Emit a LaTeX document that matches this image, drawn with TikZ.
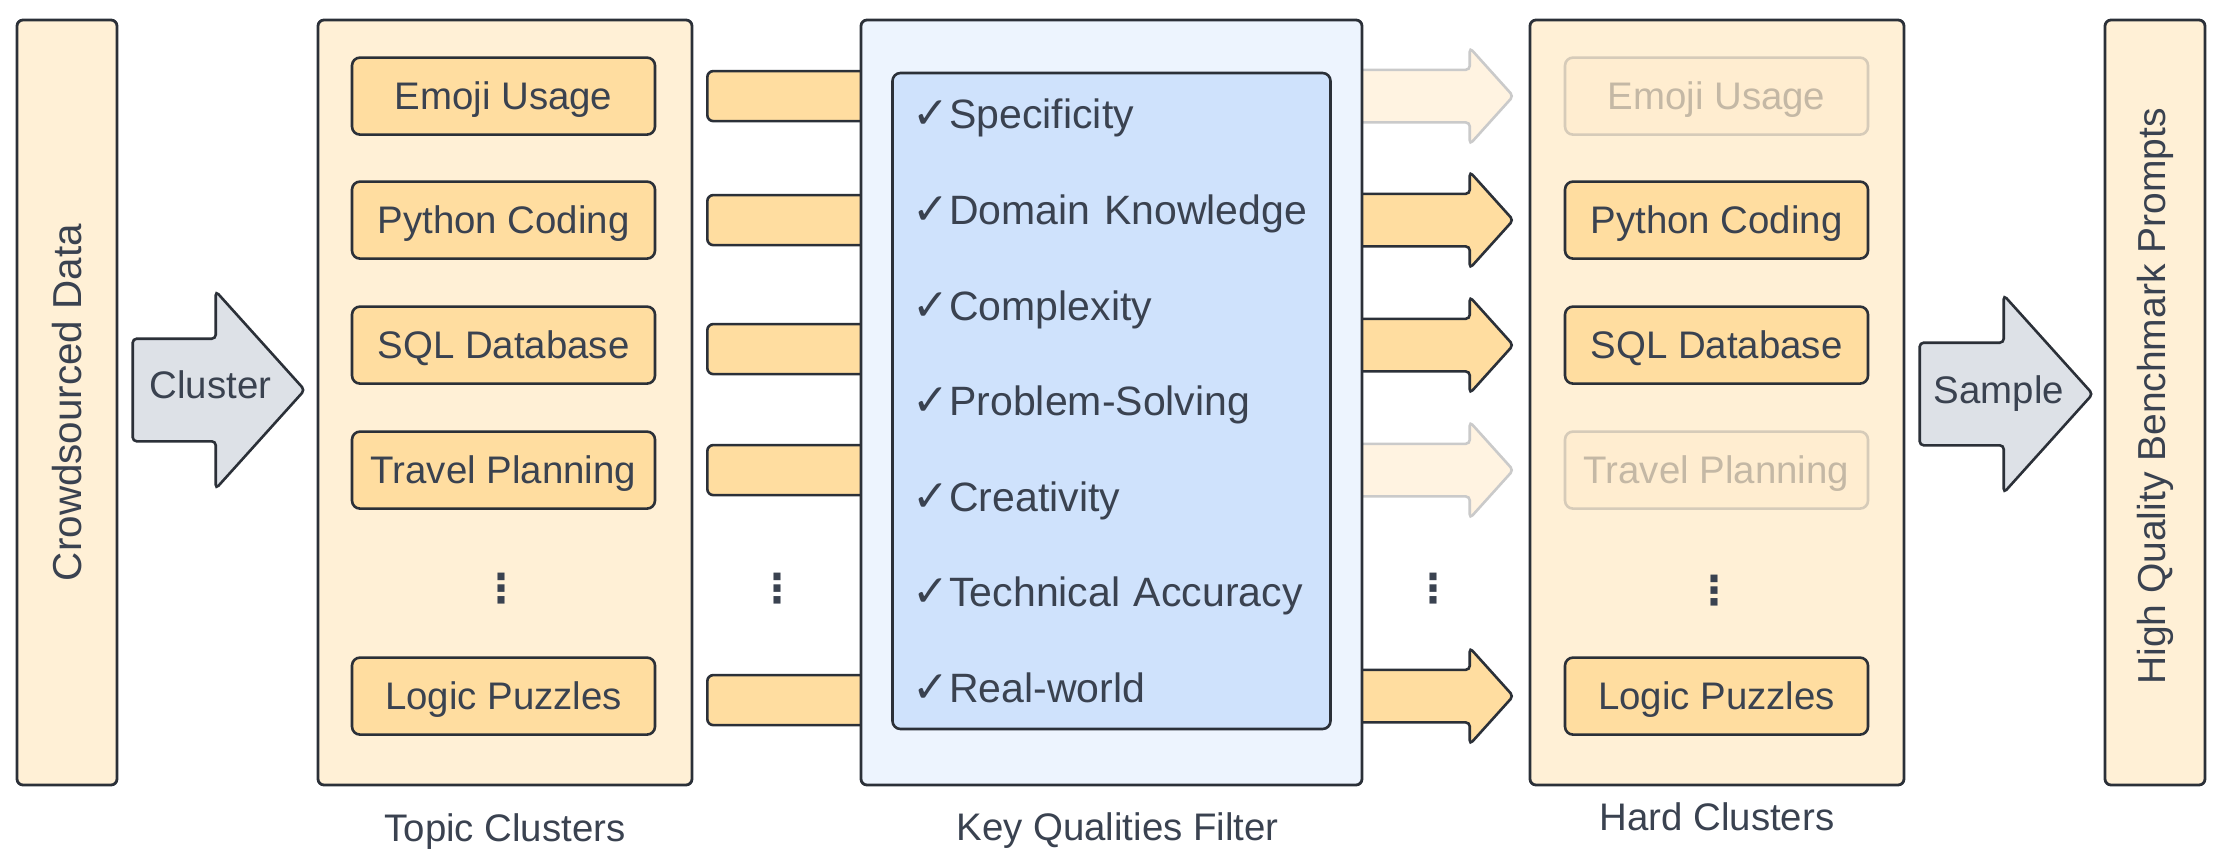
\documentclass[tikz,border=0pt]{standalone}
\usepackage{fontspec}
\setmainfont{Liberation Sans}
\newfontfamily\symfont{DejaVu Sans}
\usepackage{tikz}
\usetikzlibrary{positioning,shapes.arrows}
\definecolor{lineclr}{HTML}{2B3038}
\definecolor{textclr}{HTML}{3A4250}
\definecolor{paleorange}{HTML}{FFF0D6}
\definecolor{boxorange}{HTML}{FFDDA0}
\definecolor{paleblue}{HTML}{EDF4FE}
\definecolor{boxblue}{HTML}{CFE2FC}
\definecolor{arrowgray}{HTML}{DDE1E7}
\definecolor{fadefill}{HTML}{FFEDD0}
\definecolor{fadeline}{HTML}{D6CBB9}
\definecolor{fadetext}{HTML}{C4B8A5}
\definecolor{fadearrow}{HTML}{FFF3E1}
\definecolor{fadearrowline}{HTML}{CACACA}
\tikzset{
    panel/.style={
           rectangle,
           rounded corners=3pt,
           draw=lineclr, line width=1.4pt,
           fill=paleorange,
           minimum height=382.5pt,
           inner sep=0pt,
           text=textclr,
           },
    cluster/.style={
           rectangle,
           rounded corners=4pt,
           draw=lineclr, line width=1.3pt,
           fill=boxorange,
           minimum width=151.5pt,
           minimum height=38.5pt,
           inner sep=0pt,
           text=textclr,
           font=\fontsize{19.2}{23}\selectfont,
           text height=13.75pt, text depth=0pt,
           },
    faded/.style={cluster, draw=fadeline, fill=fadefill, text=fadetext},
    bigarrow/.style={
           single arrow,
           rounded corners=2pt,
           draw=lineclr, line width=1.3pt,
           fill=arrowgray,
           single arrow tip angle=96,
           single arrow head extend=23.75pt,
           minimum height=86pt,
           inner xsep=0pt, inner ysep=25pt,
           },
    passarrow/.style={
           single arrow,
           rounded corners=2pt,
           draw=lineclr, line width=1.3pt,
           fill=boxorange,
           single arrow tip angle=96,
           single arrow head extend=11pt,
           minimum height=80pt,
           inner xsep=0pt, inner ysep=12.5pt,
           },
    dropped/.style={passarrow, draw=fadearrowline, fill=fadearrow},
    bar/.style={
           rectangle,
           rounded corners=3pt,
           draw=lineclr, line width=1.3pt,
           fill=boxorange,
           minimum width=80pt,
           minimum height=25pt,
           inner sep=0pt,
           },
    quality/.style={
           text width=200pt,
           align=left,
           inner sep=0pt,
           text=textclr,
           font=\fontsize{20.5}{24}\selectfont,
           text height=14.7pt, text depth=0pt,
           },
    caption/.style={
           inner sep=0pt,
           text=textclr,
           font=\fontsize{19.2}{23}\selectfont,
           text height=13.75pt, text depth=0pt,
           },
    morerows/.style={inner sep=0pt, text=textclr, font=\symfont\bfseries\fontsize{20}{24}\selectfont},
}
\newcommand{\tick}{{\symfont\fontsize{22}{24}\selectfont\char"2713}}

\begin{document}
\begin{tikzpicture}
        \useasboundingbox (0,0) rectangle (1112pt,-431.5pt);

        % SOURCE DATA
        \node[panel,
            minimum width=50pt,
            font=\fontsize{20.2}{24}\selectfont
            ] (CROWD) at (33.5pt,-201.25pt)
        {\rotatebox{90}{Crowdsourced Data}};

        % TOPIC CLUSTERS
        % column of clusters inside one big panel
        \node[panel,
            minimum width=187pt,
            right of=CROWD,
            node distance=219pt,
            anchor=center] (TOPIC) {};

        \node[cluster, at=(TOPIC.north), yshift=-38.75pt, xshift=-0.75pt] (TOPIC_EMOJI) {Emoji Usage};
        \node[cluster, below of=TOPIC_EMOJI, node distance=62pt] (TOPIC_PY) {Python Coding};
        \node[cluster, below of=TOPIC_PY, node distance=62.5pt] (TOPIC_SQL) {SQL Database};
        \node[cluster, below of=TOPIC_SQL, node distance=62.5pt] (TOPIC_TRAVEL) {Travel Planning};
        \node[morerows, below of=TOPIC_TRAVEL, node distance=59pt, xshift=-1.25pt] (TOPIC_DOTS) {\char"22EE};
        \node[cluster, below of=TOPIC_TRAVEL, node distance=113pt] (TOPIC_LOGIC) {Logic Puzzles};

        % HARD CLUSTERS
        % same column, the dropped ones are faded out
        \node[panel,
            minimum width=187pt,
            right of=TOPIC,
            node distance=606pt,
            anchor=center] (HARD) {};

        \node[faded, at=(HARD.north), yshift=-38.75pt, xshift=-0.25pt] (HARD_EMOJI) {Emoji Usage};
        \node[cluster, below of=HARD_EMOJI, node distance=62pt] (HARD_PY) {Python Coding};
        \node[cluster, below of=HARD_PY, node distance=62.5pt] (HARD_SQL) {SQL Database};
        \node[faded, below of=HARD_SQL, node distance=62.5pt] (HARD_TRAVEL) {Travel Planning};
        \node[morerows, below of=HARD_TRAVEL, node distance=60pt, xshift=-1.25pt] (HARD_DOTS) {\char"22EE};
        \node[cluster, below of=HARD_TRAVEL, node distance=113pt] (HARD_LOGIC) {Logic Puzzles};

        % BENCHMARK
        \node[panel,
            minimum width=50pt,
            right of=HARD,
            node distance=219pt,
            anchor=center,
            font=\fontsize{19.5}{23}\selectfont] (BENCH)
        {\rotatebox{90}{\hspace*{6pt}High Quality Benchmark Prompts}};

        % big arrows between the panels
        % words set on top, so they may run into the head
        \node[bigarrow, at=(CROWD.east), anchor=tail, xshift=6.5pt, yshift=6.25pt] (CLUSTER) {};
        \node[caption, at=(CLUSTER.tail), xshift=39.5pt, yshift=2.5pt] (CLUSTER_TXT) {Cluster};
        \node[bigarrow, at=(HARD.east), anchor=tail, xshift=6.5pt, yshift=4.25pt,
            minimum height=86.5pt] (SAMPLE) {};
        \node[caption, at=(SAMPLE.tail), xshift=40.3pt, yshift=2pt] (SAMPLE_TXT) {Sample};

        % bars into the filter (right ends go under it)
        \node[bar, right of=TOPIC_EMOJI, node distance=101.25pt, anchor=west] (IN_EMOJI) {};
        \node[bar, right of=TOPIC_PY, node distance=101.25pt, anchor=west] (IN_PY) {};
        \node[bar, right of=TOPIC_SQL, node distance=101.25pt, anchor=west, yshift=-2pt] (IN_SQL) {};
        \node[bar, right of=TOPIC_TRAVEL, node distance=101.25pt, anchor=west] (IN_TRAVEL) {};
        \node[bar, right of=TOPIC_LOGIC, node distance=101.25pt, anchor=west, yshift=-2pt] (IN_LOGIC) {};

        % arrows out of the filter (left ends go under it)
        \node[dropped, left of=HARD_EMOJI, node distance=100.75pt, anchor=tip] (OUT_EMOJI) {};
        \node[passarrow, left of=HARD_PY, node distance=100.75pt, anchor=tip] (OUT_PY) {};
        \node[passarrow, left of=HARD_SQL, node distance=100.75pt, anchor=tip] (OUT_SQL) {};
        \node[dropped, left of=HARD_TRAVEL, node distance=100.75pt, anchor=tip] (OUT_TRAVEL) {};
        \node[passarrow, left of=HARD_LOGIC, node distance=100.75pt, anchor=tip] (OUT_LOGIC) {};

        % KEY QUALITIES FILTER
        \node[panel,
            fill=paleblue,
            minimum width=250.5pt,
            right of=TOPIC,
            node distance=303.25pt,
            anchor=center] (FILTER) {};
        \node[rectangle, rounded corners=4pt,
            draw=lineclr, line width=1.3pt,
            fill=boxblue,
            minimum width=219pt, minimum height=328pt,
            at=(FILTER.center), yshift=0.75pt] (FILTER_IN) {};

        \node[quality, at=(FILTER_IN.north), xshift=0.5pt, yshift=-21.2pt] (Q1) {\tick Specificity};
        \node[quality, below of=Q1, node distance=47.8pt] (Q2) {\tick Domain Knowledge};
        \node[quality, below of=Q2, node distance=47.8pt] (Q3) {\tick Complexity};
        \node[quality, below of=Q3, node distance=47.8pt] (Q4) {\tick Problem-Solving};
        \node[quality, below of=Q4, node distance=47.8pt] (Q5) {\tick Creativity};
        \node[quality, below of=Q5, node distance=47.8pt] (Q6) {\tick Technical Accuracy};
        \node[quality, below of=Q6, node distance=47.8pt] (Q7) {\tick Real-world};

        % dots for the rows that are not shown
        \node[morerows, right of=TOPIC_DOTS, node distance=138pt] (IN_DOTS) {\char"22EE};
        \node[morerows, left of=HARD_DOTS, node distance=140.5pt, yshift=1pt] (OUT_DOTS) {\char"22EE};

        % captions below the panels
        \node[caption, below of=TOPIC, node distance=212.5pt] (TOPIC_LBL) {Topic Clusters};
        \node[caption, below of=FILTER, node distance=212pt, xshift=3pt] (FILTER_LBL) {Key Qualities Filter};
        \node[caption, below of=HARD, node distance=207.25pt] (HARD_LBL) {Hard Clusters};
        \end{tikzpicture}
\end{document}
